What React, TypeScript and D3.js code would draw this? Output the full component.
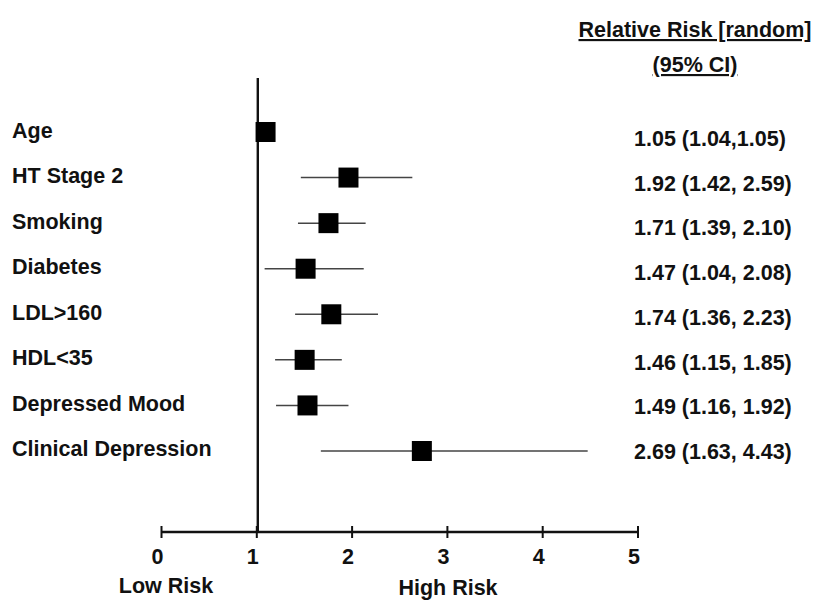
import React from 'react'
import * as d3 from 'd3'

const factors = ['Age', 'HT Stage 2', 'Smoking', 'Diabetes', 'LDL>160', 'HDL<35', 'Depressed Mood', 'Clinical Depression']
const rr = [1.05, 1.92, 1.71, 1.47, 1.74, 1.46, 1.49, 2.69]
const lower = [1.04, 1.42, 1.39, 1.04, 1.36, 1.15, 1.16, 1.63]
const upper = [1.05, 2.59, 2.1, 2.08, 2.23, 1.85, 1.92, 4.43]
const ciLabels = [
    '1.05 (1.04,1.05)',
    '1.92 (1.42, 2.59)',
    '1.71 (1.39, 2.10)',
    '1.47 (1.04, 2.08)',
    '1.74 (1.36, 2.23)',
    '1.46 (1.15, 1.85)',
    '1.49 (1.16, 1.92)',
    '2.69 (1.63, 4.43)'
]
const ticks = [0, 1, 2, 3, 4, 5]

const W = 814
const H = 601
const FONT = 'Liberation Sans, Arial, sans-serif'
const FS = 21.5

export default function App() {
    const x = d3.scaleLinear().domain([0, 5]).range([161.5, 638])
    // the original plots its squares a few px right of the axis
    const xMark = x.copy().range([165.5, 642])
    // row centres for marks, labels and the right-hand column
    const yMark = d3.scalePoint().domain(factors).range([132, 451])
    const yLabel = d3.scalePoint().domain(factors).range([130, 448])
    const yText = d3.scalePoint().domain(factors).range([138, 451])
    const axisY = 532
    const sq = 20

    return (
        <svg width={W} height={H} style={{ position: 'absolute', left: 0, top: 0, background: '#fff' }}>
            <g fontFamily={FONT} fontWeight="bold" fill="#111" fontSize={FS}>
                {/* header */}
                <text x={695} y={37} textAnchor="middle" textDecoration="underline">
                    Relative Risk [random]
                </text>
                <text x={695} y={72} textAnchor="middle" textDecoration="underline">
                    (95% CI)
                </text>

                {/* reference line at 1 */}
                <line x1={x(1) + 1} x2={x(1) + 1} y1={78} y2={axisY} stroke="#111" strokeWidth={2.4} />

                {factors.map((f, i) => {
                    const cy = yMark(f) as number
                    return (
                        <g key={f}>
                            <text x={12} y={(yLabel(f) as number) + 8}>
                                {f}
                            </text>
                            <line x1={xMark(lower[i])} x2={xMark(upper[i])} y1={cy} y2={cy} stroke="#444" strokeWidth={1.5} />
                            <rect x={xMark(rr[i]) - sq / 2} y={cy - sq / 2} width={sq} height={sq} fill="#000" />
                            <text x={634} y={(yText(f) as number) + 8}>
                                {ciLabels[i]}
                            </text>
                        </g>
                    )
                })}

                {/* x axis */}
                <line x1={x(0)} x2={x(5)} y1={axisY} y2={axisY} stroke="#111" strokeWidth={2.5} />
                {ticks.map((t) => (
                    <g key={t}>
                        <line x1={x(t)} x2={x(t)} y1={axisY - 6} y2={axisY + 6} stroke="#111" strokeWidth={2} />
                        <text x={x(t) - 4} y={564} textAnchor="middle">
                            {t}
                        </text>
                    </g>
                ))}
                <text x={166} y={593} textAnchor="middle">
                    Low Risk
                </text>
                <text x={448} y={595} textAnchor="middle">
                    High Risk
                </text>
            </g>
        </svg>
    )
}
